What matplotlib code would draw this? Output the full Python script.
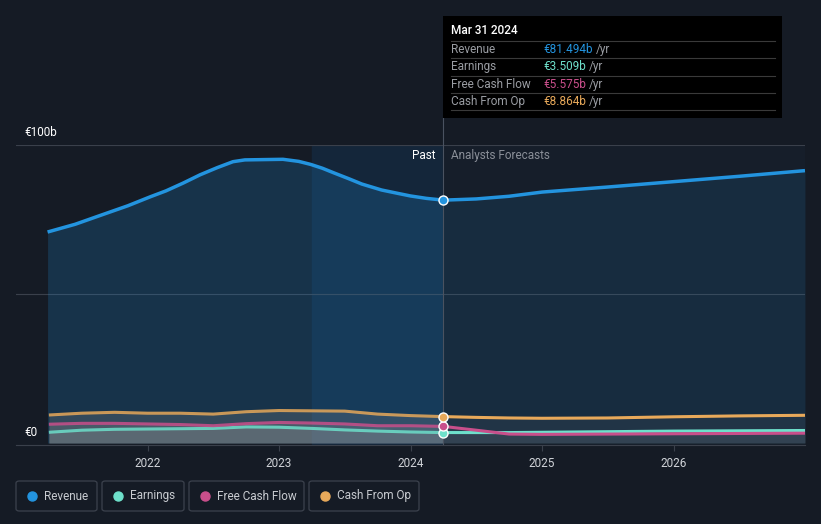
import matplotlib.pyplot as plt
import numpy as np
from matplotlib.patches import Rectangle, FancyBboxPatch

plt.rcParams['font.family'] = ['Roboto', 'DejaVu Sans']

# data (EUR billions)
rev_x = [2021.24, 2021.45, 2021.63, 2021.85, 2022.02, 2022.14, 2022.27, 2022.40,
         2022.53, 2022.65, 2022.74, 2022.88, 2023.03, 2023.15, 2023.24, 2023.33,
         2023.42, 2023.53, 2023.63, 2023.78, 2023.90, 2024.0, 2024.12, 2024.25]
revenue_past = [70.8, 73.4, 76.2, 79.6, 82.6, 84.6, 87.2, 90.0, 92.4, 94.4, 95.0, 95.1,
                95.2, 94.5, 93.5, 92.2, 90.6, 88.7, 86.9, 84.9, 83.8, 82.9, 82.1, 81.494]

past_x = [2021.25, 2021.5, 2021.75, 2022.0, 2022.25, 2022.5, 2022.75,
          2023.0, 2023.25, 2023.5, 2023.75, 2024.0, 2024.25]
earnings_past = [3.6, 4.3, 4.6, 4.7, 4.8, 4.9, 5.4, 5.3, 4.9, 4.4, 4.0, 3.7, 3.509]
fcf_past = [6.3, 6.6, 6.6, 6.4, 6.2, 5.8, 6.5, 6.9, 6.7, 6.4, 5.8, 5.8, 5.575]
cfo_past = [9.4, 10.0, 10.3, 10.0, 10.0, 9.7, 10.5, 10.9, 10.8, 10.7, 9.7, 9.2, 8.864]

fc_x = [2024.25, 2024.5, 2024.75, 2025.0, 2025.5, 2026.0, 2026.5, 2027.0]
revenue_fc = [81.494, 81.9, 82.8, 84.2, 85.9, 87.7, 89.5, 91.4]
earnings_fc = [3.509, 3.5, 3.5, 3.6, 3.8, 4.0, 4.1, 4.2]
fcf_fc = [5.575, 4.3, 3.0, 2.9, 3.0, 3.1, 3.2, 3.3]
cfo_fc = [8.864, 8.6, 8.4, 8.3, 8.4, 8.8, 9.1, 9.3]

years = [2022, 2023, 2024, 2025, 2026]
names = ['Revenue', 'Earnings', 'Free Cash Flow', 'Cash From Op']
colors = ['#2394df', '#6ee0cb', '#c94f8b', '#e8a95a']
tip_values = ['€81.494b', '€3.509b', '€5.575b', '€8.864b']

BG = '#151b25'
W, H = 821, 524
fig = plt.figure(figsize=(W / 100, H / 100), dpi=100, facecolor=BG)


def fx(px):
    return px / W


def fy(py):
    return 1 - py / H


ax = fig.add_axes([fx(16), fy(444.5), fx(805) - fx(16), fy(145) - fy(444.5)])
ax.set_facecolor(BG)
ax.set_xlim(2021.0, 2027.0)
ax.set_ylim(-0.5, 100)

ax.axvspan(2023.25, 2024.25, color='#14263a', zorder=0)
ax.axvspan(2024.25, 2027.0, color='#161e2a', zorder=0)
for g in [50, 100]:
    ax.axhline(g, color='#3a404b', lw=0.8, zorder=1)

# revenue area
ax.fill_between(rev_x, revenue_past, 0, color='#2394df', alpha=0.2, lw=0, zorder=2)
ax.fill_between(fc_x, revenue_fc, 0, color='#2394df', alpha=0.12, lw=0, zorder=2)

# small series grey areas
for past, fc in [(cfo_past, cfo_fc), (fcf_past, fcf_fc), (earnings_past, earnings_fc)]:
    ax.fill_between(past_x, past, 0, color='#9a9a9a', alpha=0.22, lw=0, zorder=3)
    ax.fill_between(fc_x, fc, 0, color='#9a9a9a', alpha=0.08, lw=0, zorder=3)

series = [(rev_x, revenue_past, revenue_fc), (past_x, earnings_past, earnings_fc),
          (past_x, fcf_past, fcf_fc), (past_x, cfo_past, cfo_fc)]
for (px_, past, fc), c, lw in zip(series, colors, [2.5, 2.2, 2.2, 2.2]):
    ax.plot(px_, past, color=c, lw=lw, alpha=1 if c == colors[0] else 0.85,
            solid_capstyle='butt', solid_joinstyle='round', zorder=4)
    ax.plot(fc_x, fc, color=c, lw=lw, solid_capstyle='butt', solid_joinstyle='round',
            zorder=4)
    ax.plot([px_[-1]], [past[-1]], 'o', ms=6.5, color=c, mec='white', mew=1.0, zorder=6)

ax.axvline(2024.25, color='#4a5260', lw=0.8, zorder=5)

for s in ['top', 'right', 'left']:
    ax.spines[s].set_visible(False)
ax.spines['bottom'].set_color('#3a404b')
ax.set_xticks(years)
ax.set_xticklabels([str(y) for y in years])
ax.set_yticks([])
ax.tick_params(axis='x', colors='#3a404b', labelcolor='#d0d3d8', labelsize=8.5,
               length=4, pad=5)

ax.text(2024.19, 96.5, 'Past', color='white', fontsize=8.5, ha='right', va='center',
        zorder=7)
ax.text(2024.31, 96.5, 'Analysts Forecasts', color='#8a8f98', fontsize=8.5, ha='left',
        va='center', zorder=7)

fig.text(fx(24), fy(132), '€100b', color='white', fontsize=8.5, va='center')
fig.text(fx(24), fy(432), '€0', color='white', fontsize=8.5, va='center')

# tooltip
fig.add_artist(Rectangle((fx(443), fy(118)), fx(782) - fx(443), fy(16) - fy(118),
                         transform=fig.transFigure, facecolor='black', edgecolor='none',
                         zorder=10))
fig.add_artist(plt.Line2D([fx(443), fx(443)], [fy(118), fy(145)], color='#4a5260',
                          lw=0.8, transform=fig.transFigure, zorder=9))
fig.text(fx(451), fy(31), 'Mar 31 2024', color='white', fontsize=8.5, va='center',
         fontweight='medium', zorder=11)
for i, (n, v, c) in enumerate(zip(names, tip_values, colors)):
    yl = 41 + i * 17.3
    fig.add_artist(plt.Line2D([fx(451), fx(775)], [fy(yl), fy(yl)], color='#3a3a3a',
                              lw=0.8, transform=fig.transFigure, zorder=11))
    yc = yl + 8.5
    fig.text(fx(451), fy(yc), n, color='#9a9da3', fontsize=8.5, va='center', zorder=11)
    t = fig.text(fx(543), fy(yc), v, color=c, fontsize=8.5, va='center', zorder=11)
    fig.canvas.draw()
    bb = t.get_window_extent()
    fig.text(bb.x1 / W + fx(3), fy(yc), '/yr', color='#9a9da3', fontsize=8.5,
             va='center', zorder=11)
fig.add_artist(plt.Line2D([fx(451), fx(775)], [fy(110), fy(110)], color='#3a3a3a',
                          lw=0.8, transform=fig.transFigure, zorder=11))

# legend boxes
boxes = [(16, 97), (102, 184), (189, 304), (309, 419)]
for (x0, x1), n, c in zip(boxes, names, colors):
    fig.add_artist(FancyBboxPatch((fx(x0), fy(511)), fx(x1) - fx(x0), fy(481) - fy(511),
                                  boxstyle='round,pad=0,rounding_size=0.004',
                                  transform=fig.transFigure, facecolor='none',
                                  edgecolor='#3c424d', lw=0.9))
    fig.add_artist(plt.Line2D([fx(x0 + 16)], [fy(496)], marker='o', ms=6.5, color=c,
                              lw=0, transform=fig.transFigure))
    fig.text(fx(x0 + 28), fy(496), n, color='#c8cbd0', fontsize=8.5, va='center')

fig.savefig('out.png', dpi=100, facecolor=BG)
